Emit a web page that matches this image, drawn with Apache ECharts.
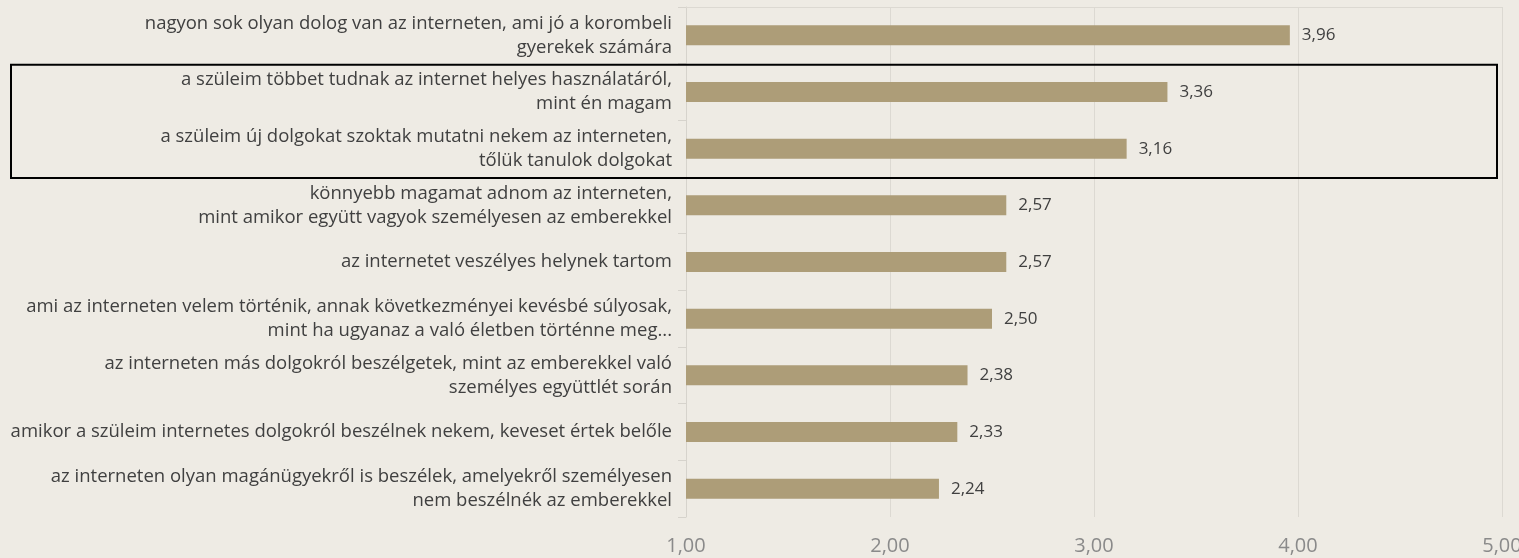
<!DOCTYPE html>
<html>
<head>
<meta charset="utf-8">
<script src="https://cdn.jsdelivr.net/npm/echarts@6/dist/echarts.min.js"></script>
<style>
  html, body { margin: 0; padding: 0; background: #eeebe4; }
  #chart { width: 1519px; height: 558px; }
</style>
</head>
<body>
<div id="chart"></div>
<script>
const categories = [
  'nagyon sok olyan dolog van az interneten, ami jó a korombeli\ngyerekek számára',
  'a szüleim többet tudnak az internet helyes használatáról,\nmint én magam',
  'a szüleim új dolgokat szoktak mutatni nekem az interneten,\ntőlük tanulok dolgokat',
  'könnyebb magamat adnom az interneten,\nmint amikor együtt vagyok személyesen az emberekkel',
  'az internetet veszélyes helynek tartom',
  'ami az interneten velem történik, annak következményei kevésbé súlyosak,\nmint ha ugyanaz a való életben történne meg...',
  'az interneten más dolgokról beszélgetek, mint az emberekkel való\nszemélyes együttlét során',
  'amikor a szüleim internetes dolgokról beszélnek nekem, keveset értek belőle',
  'az interneten olyan magánügyekről is beszélek, amelyekről személyesen\nnem beszélnék az emberekkel'
]
const values = [3.96, 3.36, 3.16, 2.57, 2.57, 2.50, 2.38, 2.33, 2.24]
const axisTicks = [1, 2, 3, 4, 5]
// rows 2-3 are boxed in the original
const boxedRows = [1, 2]

const fmt = v => v.toFixed(2).replace('.', ',')
const font = '"Open Sans", "Noto Sans", sans-serif'
const lineCol = '#dcd9d2'

const myChart = echarts.init(document.getElementById('chart'))

const option = {
  backgroundColor: '#eeebe4',
  animation: false,
  grid: {
    left: 686,
    right: 17,
    top: 7,
    bottom: 41,
    outerBoundsMode: 'none'
  },
  xAxis: [
    {
      type: 'value',
      min: axisTicks[0],
      max: axisTicks[axisTicks.length - 1],
      interval: 1,
      axisLine: { show: false },
      axisTick: { show: false },
      splitLine: { lineStyle: { color: lineCol, width: 1 } },
      axisLabel: {
        formatter: fmt,
        color: '#8a8a8a',
        fontSize: 20,
        fontFamily: font,
        margin: 19
      }
    },
    {
      // only the thin top border of the plot
      type: 'value',
      position: 'top',
      min: axisTicks[0],
      max: axisTicks[axisTicks.length - 1],
      interval: 1,
      axisLine: { show: true, lineStyle: { color: lineCol } },
      axisTick: { show: false },
      axisLabel: { show: false },
      splitLine: { show: false }
    }
  ],
  yAxis: {
    type: 'category',
    data: categories,
    inverse: true,
    axisLine: { show: true, lineStyle: { color: '#d6d3cc' } },
    axisTick: { show: true, length: 8, lineStyle: { color: '#d6d3cc' } },
    axisLabel: {
      color: '#404040',
      fontSize: 18.5,
      lineHeight: 24,
      fontFamily: font,
      margin: 14,
      align: 'right'
    }
  },
  series: [
    {
      type: 'bar',
      data: values,
      barWidth: 20,
      itemStyle: { color: '#ad9d78' },
      label: {
        show: true,
        position: 'right',
        distance: 12,
        formatter: p => fmt(p.value),
        color: '#404040',
        fontSize: 17,
        fontFamily: font
      }
    }
  ]
}

myChart.setOption(option)

// frame around the boxed rows, placed from the category band edges
const yTop = myChart.convertToPixel({ yAxisIndex: 0 }, boxedRows[0])
const yBot = myChart.convertToPixel({ yAxisIndex: 0 }, boxedRows[boxedRows.length - 1])
const band = (yBot - yTop) / (boxedRows.length - 1)
myChart.setOption({
  graphic: [
    {
      type: 'rect',
      shape: { x: 11, y: yTop - band / 2 + 1, width: 1486, height: yBot - yTop + band },
      style: { fill: 'none', stroke: '#000', lineWidth: 2 },
      z: 10
    }
  ]
})
</script>
</body>
</html>
